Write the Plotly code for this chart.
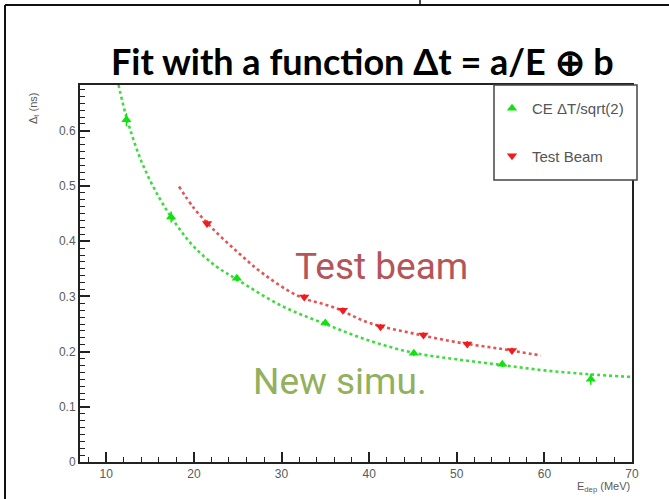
import plotly.graph_objects as go

# ---- data ----
ce_energy = [12.3, 17.4, 24.9, 35.0, 45.1, 55.2, 65.3]
ce_dt = [0.620, 0.444, 0.333, 0.252, 0.197, 0.177, 0.150]
ce_err = [0.012, 0.010, 0.006, 0.005, 0.005, 0.005, 0.010]

tb_energy = [21.5, 32.6, 37.0, 41.3, 46.2, 51.2, 56.3]
tb_dt = [0.432, 0.299, 0.275, 0.245, 0.230, 0.214, 0.202]
tb_err = [0.006, 0.005, 0.005, 0.005, 0.005, 0.005, 0.005]

# fitted curves (sampled along the drawn dotted curves)
ce_fit_e = [11.4, 12.3, 14.0, 16.0, 18.0, 20.0, 22.5, 25.0, 30.0, 35.0, 40.0, 45.0, 50.0, 55.0, 60.0, 65.0, 70.0]
ce_fit_dt = [0.683, 0.625, 0.545, 0.480, 0.430, 0.390, 0.355, 0.330, 0.283, 0.250, 0.220, 0.198, 0.186, 0.176, 0.166, 0.159, 0.154]

tb_fit_e = [18.3, 20.0, 22.0, 25.0, 28.0, 32.0, 36.0, 40.0, 45.0, 50.0, 55.0, 59.6]
tb_fit_dt = [0.499, 0.460, 0.425, 0.380, 0.340, 0.300, 0.280, 0.252, 0.233, 0.217, 0.205, 0.193]

x_ticks = [10, 20, 30, 40, 50, 60, 70]
y_ticks = [0, 0.1, 0.2, 0.3, 0.4, 0.5, 0.6]
y_tick_text = ["0", "0.1", "0.2", "0.3", "0.4", "0.5", "0.6"]

title_text = "Fit with a function Δt = a/E ⊕ b"
legend_names = ["CE ΔT/sqrt(2)", "Test Beam"]

# ---- layout geometry (pixels of the 669x499 canvas) ----
W, H = 669, 499
L, R, T, B = 80, 632, 85, 462


def px(xp):
    return (xp - L) / (R - L)


def py(yp):
    return (B - yp) / (B - T)


fig = go.Figure()

fig.add_trace(go.Scatter(
    x=ce_fit_e, y=ce_fit_dt, mode="lines", showlegend=False, hoverinfo="skip",
    line=dict(color="#3ddc3d", width=2.6, dash="3px,3px", shape="spline"),
))
fig.add_trace(go.Scatter(
    x=tb_fit_e, y=tb_fit_dt, mode="lines", showlegend=False, hoverinfo="skip",
    line=dict(color="#e45454", width=2.6, dash="3px,3px", shape="spline"),
))
fig.add_trace(go.Scatter(
    x=ce_energy, y=ce_dt, mode="markers", name=legend_names[0], legendgroup="a",
    marker=dict(symbol="triangle-up", size=9, color="#11e011"),
    error_y=dict(type="data", array=ce_err, color="#11e011", thickness=1.5, width=0),
))
fig.add_trace(go.Scatter(
    x=tb_energy, y=tb_dt, mode="markers", name=legend_names[1], legendgroup="b",
    marker=dict(symbol="triangle-down", size=9, color="#ee1c1c"),
    error_y=dict(type="data", array=tb_err, color="#ee1c1c", thickness=1.5, width=0),
))

axis_font = dict(family="Liberation Sans, Arial, sans-serif", size=12, color="#5a5a5a")

fig.update_xaxes(
    range=[7, 70], tickvals=x_ticks, ticks="inside", ticklen=10, tickwidth=1.5,
    tickcolor="#222", showline=True, linecolor="#222", linewidth=2, mirror=True,
    showgrid=False, zeroline=False, tickfont=axis_font,
    minor=dict(dtick=2, ticks="inside", ticklen=5, tickwidth=1.2, tickcolor="#222", showgrid=False),
)
fig.update_yaxes(
    range=[0, 0.683], tickvals=y_ticks, ticktext=y_tick_text, ticks="inside", ticklen=10,
    tickwidth=1.5, tickcolor="#222", showline=True, linecolor="#222", linewidth=2,
    mirror=True, showgrid=False, zeroline=False, tickfont=axis_font,
    minor=dict(dtick=0.0125, tick0=0, ticks="inside", ticklen=5, tickwidth=1.2, tickcolor="#222", showgrid=False),
)

annotations = [
    dict(text="<b>" + title_text + "</b>", xref="paper", yref="paper",
         x=px(362), y=py(61), xanchor="center", yanchor="middle", showarrow=False,
         font=dict(family="Lato, Noto Sans, sans-serif", size=36, color="#000")),
    dict(text="Test beam", xref="x", yref="y", x=41.4, y=0.354, xanchor="center",
         yanchor="middle", showarrow=False,
         font=dict(family="Roboto, sans-serif", size=37, color="#b4555a")),
    dict(text="New simu.", xref="x", yref="y", x=36.7, y=0.145, xanchor="center",
         yanchor="middle", showarrow=False,
         font=dict(family="Roboto, sans-serif", size=37, color="#93b05c")),
    dict(text="E<sub>dep</sub> (MeV)", xref="paper", yref="paper", x=px(632), y=py(478),
         xanchor="right", yanchor="top", showarrow=False,
         font=dict(family="Liberation Sans, Arial, sans-serif", size=11, color="#5a5a5a")),
    dict(text="Δ<sub>t</sub> (ns)", xref="paper", yref="paper", x=px(34), y=py(90),
         xanchor="center", yanchor="top", textangle=-90, showarrow=False,
         font=dict(family="Liberation Sans, Arial, sans-serif", size=11, color="#5a5a5a")),
]

shapes = [
    dict(type="line", xref="paper", yref="paper", x0=px(5), x1=px(W + 5), y0=py(5), y1=py(5),
         line=dict(color="#111", width=2)),
    dict(type="line", xref="paper", yref="paper", x0=px(5), x1=px(5), y0=py(5), y1=py(H + 5),
         line=dict(color="#111", width=2)),
    dict(type="line", xref="paper", yref="paper", x0=px(420), x1=px(420), y0=py(-2), y1=py(5),
         line=dict(color="#111", width=1.5)),
    # legend box
    dict(type="rect", xref="paper", yref="paper", x0=px(494), x1=px(637), y0=py(180), y1=py(85),
         line=dict(color="#444", width=1.5), fillcolor="white", layer="above"),
]

fig.update_layout(
    width=W, height=H,
    margin=dict(l=L, r=W - R, t=T, b=H - B),
    paper_bgcolor="white", plot_bgcolor="white",
    annotations=annotations, shapes=shapes,
    legend=dict(
        x=px(492), y=py(92), xanchor="left", yanchor="top",
        bgcolor="rgba(0,0,0,0)", borderwidth=0,
        font=dict(family="Liberation Sans, Arial, sans-serif", size=15, color="#555"),
        traceorder="grouped", tracegroupgap=25, itemwidth=30,
    ),
    showlegend=True,
)

fig.write_html("out.html")
